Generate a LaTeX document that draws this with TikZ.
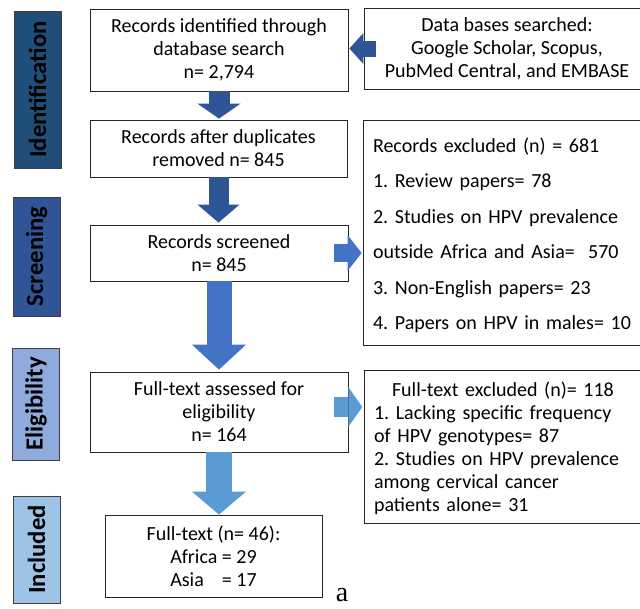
\documentclass[tikz,border=0pt]{standalone}
\usepackage{fontspec}
\setmainfont{Carlito}
\newfontfamily\letterfont{Liberation Serif}
\usepackage{calc}
\usepackage{xcolor}
\definecolor{colorIdent}{HTML}{1F4E79}
\definecolor{colorScreen}{HTML}{2F5597}
\definecolor{colorElig}{HTML}{8FAADC}
\definecolor{colorIncl}{HTML}{9DC3E6}
\colorlet{arrowDark}{colorScreen}
\definecolor{arrowMid}{HTML}{4472C4}
\definecolor{arrowLight}{HTML}{5B9BD5}
\usetikzlibrary{arrows.meta}
\tikzset{stage/.style={draw=black!75, line width=0.75pt, rotate=90, inner sep=0pt, minimum height=35.25pt, font=\fontsize{18.5}{20}\selectfont\bfseries}}
\frenchspacing

\begin{document}
\begin{tikzpicture}[x=0.75pt, y=-0.75pt, box/.style={draw=black!85, line width=0.6pt, inner sep=0pt, align=center, font=\fontsize{15}{17.25}\selectfont}, list/.style={box, align=left, inner xsep=7.5pt}, flow/.style n args={3}{line width=#1, -{Triangle[width=#2, length=#3, line width=0pt]}}]
\path[use as bounding box, fill=white] (0,0) rectangle (640,608);
\node[stage, fill=colorIdent, minimum width=117.75pt] (ident) at (37.5,89.5) {Identification};
\node[stage, fill=colorScreen, minimum width=89.25pt] (screen) at (36.5,256.5) {Screening};
\node[stage, fill=colorElig, minimum width=84pt] (elig) at (36,404) {Eligibility};
\node[stage, fill=colorIncl, minimum width=80.25pt] (incl) at (36.5,549.5) {Included};
\node[box, minimum width=193.5pt, minimum height=61.5pt] (b1) at (219,50) {Records identified through\\database search\\n= 2,794};
\node[box, minimum width=214.5pt, minimum height=60.75pt] (b2) at (507,48.5) {Data bases searched:\\Google Scholar, Scopus,\\PubMed Central, and EMBASE};
\node[box, minimum width=192.75pt, minimum height=42.75pt] (b3) at (218.5,148.5) {Records after duplicates\\removed n= 845};
\node[box, minimum width=193.5pt, minimum height=42pt] (b4) at (219,253) {Records screened\\n= 845};
\node[list, text width=200.25pt, minimum height=168.75pt, font=\fontsize{15}{26.6}\selectfont] (b5) at (506.5,232.5) {\rule{0pt}{15pt}Records excluded (n) = 681\\1. Review papers= 78\\2. Studies on HPV prevalence\\outside Africa and Asia=\ \ 570\\3. Non-English papers= 23\\4. Papers on HPV in males= 10};
\node[box, minimum width=193.5pt, minimum height=60pt] (b6) at (219,412) {Full-text assessed for\\eligibility\\n= 164};
\node[list, text width=199.5pt, minimum height=114.75pt] (b7) at (507,446.5) {\rule{0pt}{13pt}\hspace*{13.5pt}Full-text excluded (n)= 118\\1. Lacking specific frequency\\of HPV genotypes= 87\\2. Studies on HPV prevalence\\among cervical cancer\\patients alone= 31};
\node[box, minimum width=162.75pt, minimum height=61.5pt] (b8) at (213.5,556) {Full-text (n= 46):\\Africa = 29\\\makebox[\widthof{Africa}][l]{Asia} = 17};
\node[font=\letterfont\fontsize{21}{21}\selectfont, anchor=base, inner sep=0pt] (tag) at (342,601) {a};
\draw[flow={12pt}{23.25pt}{10.5pt}, arrowDark, shorten >=0.75pt] ([xshift=9pt]b2.west) -- (b2.west -| b1.east);
\draw[flow={15.75pt}{32.25pt}{11.25pt}, arrowDark, shorten >=0.75pt] (b1.south) -- (b1.south |- b3.north);
\draw[flow={15pt}{31.5pt}{13.5pt}, arrowDark, shorten >=1.5pt] (b3.south) -- (b3.south |- b4.north);
\draw[flow={13.5pt}{27pt}{10.5pt}, arrowMid, shorten >=0.75pt] ([xshift=-10.5pt]b4.east) -- (b4.east -| b5.west);
\draw[flow={18.75pt}{40.5pt}{18.75pt}, arrowMid, shorten >=1.5pt] (b4.south) -- (b4.south |- b6.north);
\draw[flow={15pt}{30pt}{10.5pt}, arrowLight, shorten >=1pt] ([xshift=-10.5pt, yshift=3.75pt]b6.east) -- ([yshift=3.75pt]b6.east -| b7.west);
\draw[flow={19.5pt}{40.5pt}{17.25pt}, arrowLight] (b6.south) -- (b6.south |- b8.north);
\end{tikzpicture}
\end{document}
